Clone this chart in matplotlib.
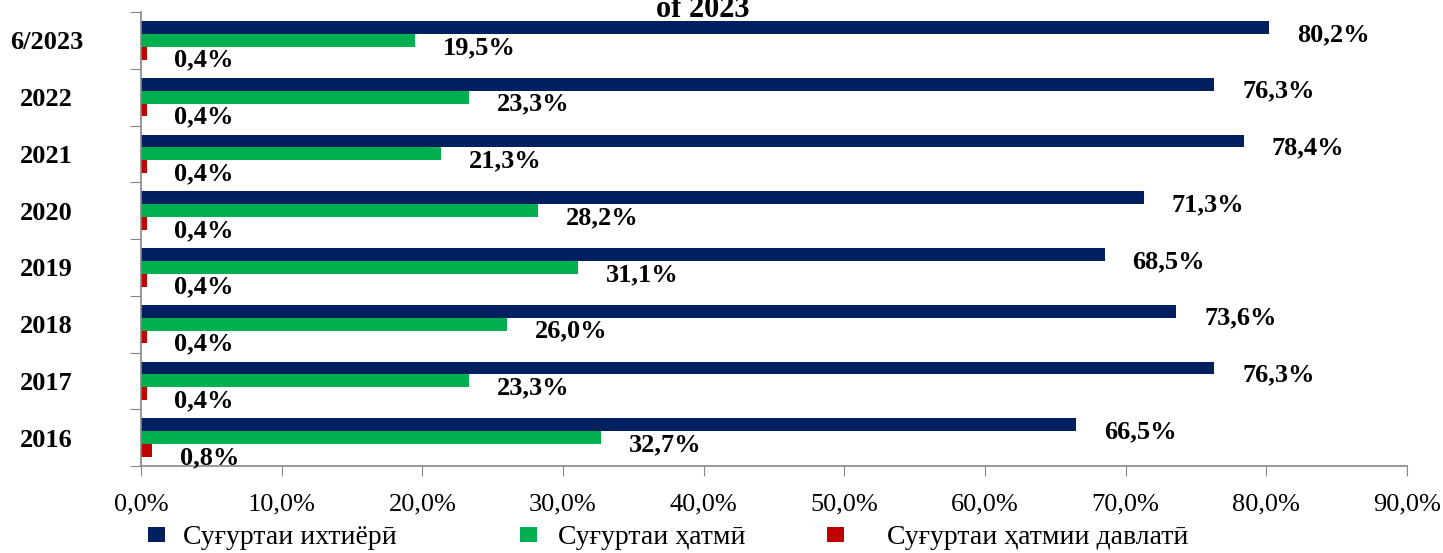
import numpy as np
import matplotlib
matplotlib.use('Agg')
import matplotlib.pyplot as plt
from matplotlib.ticker import FuncFormatter

plt.rcParams['font.family'] = ['Liberation Serif', 'DejaVu Serif']

years = ['6/2023', '2022', '2021', '2020', '2019', '2018', '2017', '2016']
voluntary = [80.2, 76.3, 78.4, 71.3, 68.5, 73.6, 76.3, 66.5]
mandatory = [19.5, 23.3, 21.3, 28.2, 31.1, 26.0, 23.3, 32.7]
state_mandatory = [0.4, 0.4, 0.4, 0.4, 0.4, 0.4, 0.4, 0.8]
names = ['Суғуртаи ихтиёрӣ', 'Суғуртаи ҳатмӣ', 'Суғуртаи ҳатмии давлатӣ']
colors = ['#002060', '#00B050', '#C00000']

W, H = 1443, 553
fig = plt.figure(figsize=(W / 100, H / 100), dpi=100)
ax = fig.add_axes([141 / W, 1 - 466 / H, (1407 - 141) / W, (466 - 12) / H])

y = np.arange(len(years))
h = 0.225
bars = []
for k, vals in enumerate([voluntary, mandatory, state_mandatory]):
    b = ax.barh(y + (k - 1) * h, vals, height=h, color=colors[k], label=names[k])
    bars.append(b)
    for yi, v in zip(y, vals):
        ax.annotate(f'{v:.1f}%'.replace('.', ','), (v, yi + (k - 1) * h),
                    xytext=(20, -5), textcoords='offset points',
                    ha='left', va='center', fontsize=19, fontweight='bold')

ax.set_xlim(0, 90)
ax.set_ylim(len(years) - 0.5, -0.5)
ax.set_xticks(np.arange(0, 91, 10))
ax.xaxis.set_major_formatter(FuncFormatter(lambda v, p: f'{v:.1f}%'.replace('.', ',')))
ax.tick_params(axis='x', length=7, color='#868686', labelsize=19, pad=13)

# category borders get the tick marks, labels sit in between
ax.set_yticks(np.arange(len(years) + 1) - 0.5)
ax.set_yticklabels([])
ax.set_yticks(y, minor=True)
ax.set_yticklabels(years, minor=True, fontsize=19, fontweight='bold', ha='center')
ax.tick_params(axis='y', which='major', length=8, color='#868686')
ax.tick_params(axis='y', which='minor', length=0, pad=68)

for s in ['top', 'right']:
    ax.spines[s].set_visible(False)
for s in ['left', 'bottom']:
    ax.spines[s].set_color('#868686')
    ax.spines[s].set_linewidth(1.2)

fig.text(703 / W, 1 - 17 / H, 'of 2023', ha='center', va='baseline',
         fontsize=22, fontweight='bold')

legend_x = [148, 520, 827]
legend_pad = [0.65, 0.75, 1.55]
for b, lx, tp in zip(bars, legend_x, legend_pad):
    fig.legend(handles=[b], loc='center left', bbox_to_anchor=(lx / W, 1 - 538 / H),
               frameon=False, fontsize=20, borderpad=0, borderaxespad=0,
               handlelength=0.6, handleheight=0.47, handletextpad=tp)

fig.savefig('out.png', dpi=100)
